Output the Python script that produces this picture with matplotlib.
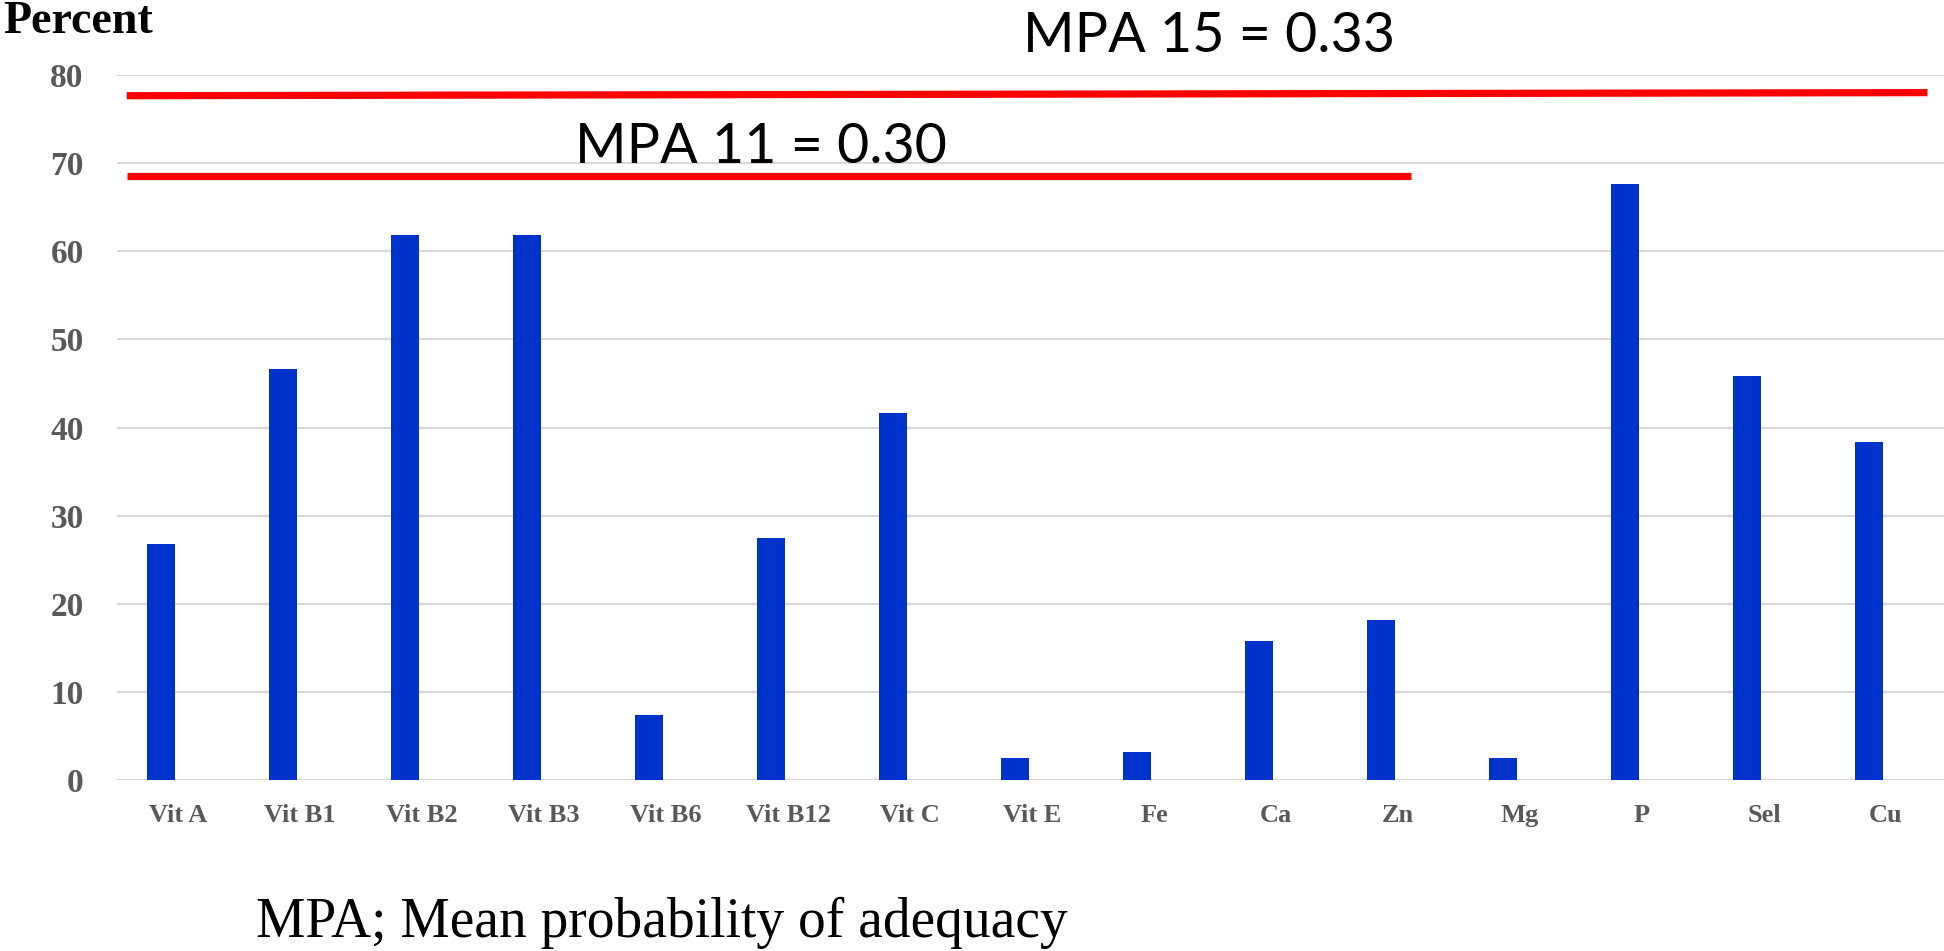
import matplotlib
matplotlib.use("Agg")
import matplotlib.pyplot as plt
import numpy as np

# ---- data ----
categories = ["Vit A", "Vit B1", "Vit B2", "Vit B3", "Vit B6", "Vit B12", "Vit C",
              "Vit E", "Fe", "Ca", "Zn", "Mg", "P", "Sel", "Cu"]
percent = [26.8, 46.6, 61.8, 61.8, 7.4, 27.5, 41.6, 2.5, 3.2, 15.8, 18.2, 2.5, 67.6, 45.9, 38.3]
y_ticks = [0, 10, 20, 30, 40, 50, 60, 70, 80]

# reference lines (MPA annotations): start/end level and category-span
mpa_labels = ["MPA 15 = 0.33", "MPA 11 = 0.30"]
mpa_start_level = [77.65, 68.5]
mpa_end_level = [78.0, 68.5]
mpa_x_start = [-0.42, -0.42]
mpa_x_end = [14.34, 10.11]

W, H = 1944, 951
fig = plt.figure(figsize=(W / 100, H / 100), dpi=100)
fig.patch.set_facecolor("white")

ax_left, ax_right, ax_top, ax_bottom = 117, 1944, 75, 780
ax = fig.add_axes([ax_left / W, 1 - ax_bottom / H, (ax_right - ax_left) / W, (ax_bottom - ax_top) / H])

x = np.arange(len(categories))
ax.bar(x - 0.14, percent, width=0.23, color="#0033cc", zorder=3)

ax.set_xlim(-0.5, -0.5 + (ax_right - ax_left) / 122.0)
ax.set_ylim(0, 80)
ax.set_yticks(y_ticks)
ax.set_xticks(x)
ax.set_xticklabels(categories)

for s in ax.spines.values():
    s.set_visible(False)
ax.yaxis.grid(True, color="#d9d9d9", linewidth=1.5, zorder=0)
ax.set_axisbelow(True)
ax.tick_params(axis="both", length=0)
ax.tick_params(axis="y", pad=24)
ax.tick_params(axis="x", pad=17)

for lbl in ax.get_yticklabels():
    lbl.set_fontfamily("Liberation Serif")
    lbl.set_fontweight("bold")
    lbl.set_fontsize(24)
    lbl.set_color("#595959")
for lbl in ax.get_xticklabels():
    lbl.set_fontfamily("Liberation Serif")
    lbl.set_fontweight("bold")
    lbl.set_fontsize(19)
    lbl.set_color("#595959")

# red MPA lines
for xs, xe, ys, ye in zip(mpa_x_start, mpa_x_end, mpa_start_level, mpa_end_level):
    ax.plot([xs, xe], [ys, ye], color="#ff0000", linewidth=5.2, solid_capstyle="butt",
            zorder=4, clip_on=False)


def px(xp, yp):
    return xp / W, 1 - yp / H


fig.text(*px(3, 33), "Percent", fontfamily="Liberation Serif", fontweight="bold",
         fontsize=33, color="black", ha="left", va="baseline")
fig.text(*px(1209, 52), mpa_labels[0], fontfamily="Lato", fontsize=40,
         color="black", ha="center", va="baseline")
fig.text(*px(761, 163), mpa_labels[1], fontfamily="Lato", fontsize=40,
         color="black", ha="center", va="baseline")
fig.text(*px(256, 937), "MPA; Mean probability of adequacy", fontfamily="Liberation Serif",
         fontsize=40, color="black", ha="left", va="baseline")

fig.savefig("out.png", dpi=100, facecolor="white")
